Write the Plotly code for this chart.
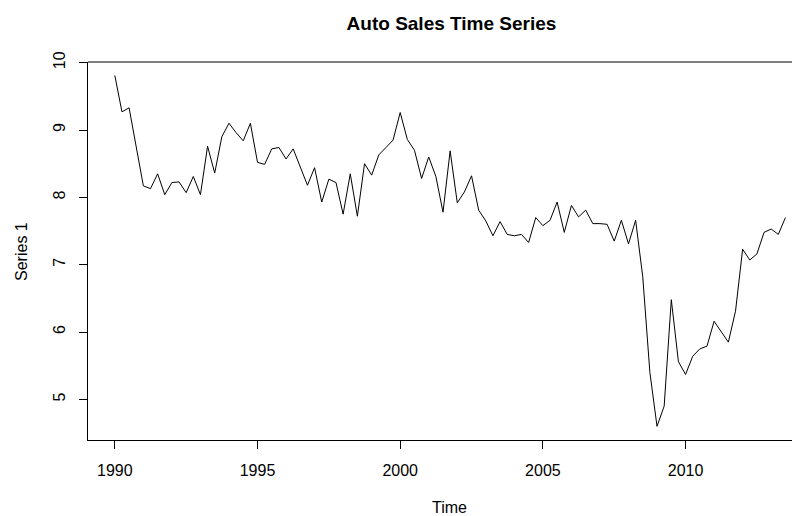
import plotly.graph_objects as go

start_year = 1990
freq = 4
values = [
    9.81, 9.27, 9.33, 8.75,
    8.17, 8.13, 8.35, 8.04,
    8.22, 8.23, 8.07, 8.31,
    8.04, 8.76, 8.36, 8.90,
    9.10, 8.96, 8.84, 9.10,
    8.52, 8.49, 8.72, 8.74,
    8.57, 8.72, 8.46, 8.18,
    8.44, 7.93, 8.27, 8.22,
    7.75, 8.35, 7.72, 8.50,
    8.33, 8.63, 8.74, 8.85,
    9.26, 8.86, 8.70, 8.28,
    8.60, 8.31, 7.78, 8.69,
    7.92, 8.08, 8.32, 7.81,
    7.65, 7.43, 7.64, 7.45,
    7.43, 7.45, 7.33, 7.70,
    7.58, 7.66, 7.93, 7.48,
    7.88, 7.71, 7.81, 7.61,
    7.61, 7.60, 7.35, 7.66,
    7.31, 7.66, 6.82, 5.40,
    4.60, 4.90, 6.48, 5.56,
    5.37, 5.64, 5.75, 5.79,
    6.16, 6.01, 5.85, 6.31,
    7.23, 7.07, 7.16, 7.48,
    7.53, 7.45, 7.70,
]
times = [start_year + i / freq for i in range(len(values))]
x_ticks = [1990, 1995, 2000, 2005, 2010]
y_ticks = [5, 6, 7, 8, 9, 10]

title_text = "Auto Sales Time Series"
x_label = "Time"
y_label = "Series 1"

font = "Liberation Sans, Arial, sans-serif"

# the page body adds an 8px offset; the figure is sized to fill the rest of the window
W, H = 792, 508
OFF = 8

fig = go.Figure()
fig.add_trace(go.Scatter(x=times, y=values, mode="lines",
                         line=dict(color="black", width=1), hoverinfo="skip"))

fig.update_layout(
    width=W, height=H,
    margin=dict(l=87.5 - OFF, r=0, t=61.7 - OFF, b=H - (440.5 - OFF)),
    paper_bgcolor="white", plot_bgcolor="white",
    showlegend=False,
    font=dict(family=font, size=16, color="black"),
    title=dict(text="<b>" + title_text + "</b>", x=(451.5 - OFF) / W, xref="container",
               xanchor="center", y=1 - (23.3 - OFF) / H, yref="container", yanchor="middle",
               font=dict(family=font, size=19, color="black")),
    xaxis=dict(range=[1989.06, 2014.01], tickvals=x_ticks, ticktext=[str(v) for v in x_ticks],
               showgrid=False, zeroline=False, showline=True, linecolor="black", linewidth=1,
               ticks="outside", ticklen=8, tickcolor="black", tickwidth=1,
               ticklabelstandoff=8, tickfont=dict(size=16, family=font)),
    yaxis=dict(range=[4.397, 10.01], tickvals=y_ticks, ticktext=[str(v) for v in y_ticks],
               showgrid=False, zeroline=False, showline=True, linecolor="black", linewidth=1,
               ticks="outside", ticklen=8, tickcolor="black", tickwidth=1,
               tickangle=-90, ticklabelstandoff=8, tickfont=dict(size=16, family=font)),
    shapes=[dict(type="line", xref="paper", yref="paper", x0=0, x1=1, y0=1, y1=1,
                 line=dict(color="black", width=1))],
    annotations=[
        dict(text=x_label, xref="paper", yref="paper", x=(449 - 87.5) / 712.5,
             y=(440.5 - 508) / 378.8, xanchor="center", yanchor="middle", showarrow=False,
             font=dict(size=16, family=font)),
        dict(text=y_label, xref="paper", yref="paper", x=(21 - 87.5) / 712.5,
             y=(440.5 - 251.5) / 378.8, xanchor="center", yanchor="middle", showarrow=False,
             textangle=-90, font=dict(size=16, family=font)),
    ],
)

fig.write_html("out.html")
